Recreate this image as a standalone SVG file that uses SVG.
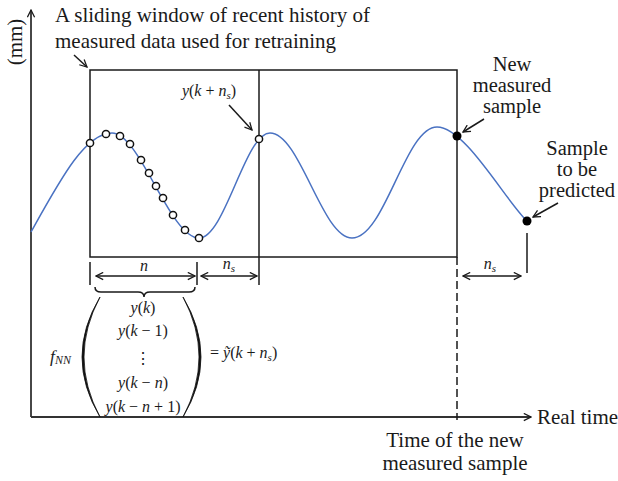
<svg xmlns="http://www.w3.org/2000/svg" width="618" height="481" viewBox="0 0 618 481">
<style>
text{font-family:"Liberation Serif","Times New Roman",serif;fill:#1a1a1a}
.lbl{font-size:21px}
.sm{font-size:20.5px}
.mt{font-size:16px}
.i{font-style:italic}
.ln{stroke:#1a1a1a;stroke-width:1.5;fill:none}
.ax{stroke:#333;stroke-width:1.8;fill:none}
.curve{stroke:#4a72c2;stroke-width:1.5;fill:none}
.ho{fill:#fff;stroke:#111;stroke-width:1.5}
.fi{fill:#000}
</style>
<defs>
<marker id="ah" viewBox="0 0 10 10" refX="9" refY="5" markerWidth="9" markerHeight="9" markerUnits="userSpaceOnUse" orient="auto-start-reverse">
<path d="M1,1 L9,5 L1,9" fill="none" stroke="#1a1a1a" stroke-width="1.4"/>
</marker>
</defs>

<g id="axes">
<line class="ax" x1="31" y1="417" x2="31" y2="10" marker-end="url(#ah)"/>
<line class="ax" x1="31" y1="417" x2="531" y2="417" marker-end="url(#ah)"/>
<text class="lbl" transform="translate(22,42) rotate(-90)" text-anchor="middle">(mm)</text>
<text class="lbl" x="537" y="424">Real time</text>
</g>

<g id="window">
<rect class="ln" x="90" y="70" width="367" height="187"/>
<line class="ln" x1="259" y1="70" x2="259" y2="285"/>
<line class="ln" x1="90" y1="262" x2="90" y2="285"/>
<line class="ln" x1="197" y1="262" x2="197" y2="285"/>
<line class="ln" x1="457" y1="257" x2="457" y2="420" stroke-dasharray="8,4"/>
<line class="ln" x1="527" y1="233" x2="527" y2="273"/>
</g>

<g id="curve">
<path class="curve" d="M31,232 C60,180 85,133 112,133 C140,133 170,238 199,238 C225,238 245,133 270,133 C300,133 322,238 352,238 C385,238 405,127 437,127 C465,127 505,200 527,221"/>
</g>

<g id="samples">
<circle class="ho" cx="90" cy="143" r="3.6"/>
<circle class="ho" cx="106" cy="134" r="3.6"/>
<circle class="ho" cx="120" cy="136" r="3.6"/>
<circle class="ho" cx="130" cy="144" r="3.6"/>
<circle class="ho" cx="141" cy="160" r="3.6"/>
<circle class="ho" cx="149" cy="173" r="3.6"/>
<circle class="ho" cx="156" cy="186" r="3.6"/>
<circle class="ho" cx="163" cy="198" r="3.6"/>
<circle class="ho" cx="173" cy="215" r="3.6"/>
<circle class="ho" cx="185" cy="230" r="3.6"/>
<circle class="ho" cx="199" cy="238" r="3.6"/>
<circle class="ho" cx="259" cy="139" r="3.6"/>
<circle class="fi" cx="457" cy="136" r="4.5"/>
<circle class="fi" cx="527" cy="221" r="4.5"/>
</g>

<g id="connectors">
<line class="ln" x1="74" y1="55" x2="87" y2="67" marker-end="url(#ah)"/>
<line class="ln" x1="229" y1="105" x2="252" y2="130" marker-end="url(#ah)"/>
<line class="ln" x1="484" y1="119" x2="463" y2="132" marker-end="url(#ah)"/>
<line class="ln" x1="558" y1="203" x2="533" y2="217" marker-end="url(#ah)"/>
<line class="ln" x1="96" y1="276" x2="195" y2="276" marker-start="url(#ah)" marker-end="url(#ah)"/>
<line class="ln" x1="201" y1="276" x2="257" y2="276" marker-start="url(#ah)" marker-end="url(#ah)"/>
<line class="ln" x1="463" y1="276" x2="521" y2="276" marker-start="url(#ah)" marker-end="url(#ah)"/>
</g>

<g id="label-window">
<text class="lbl" x="55" y="22">A sliding window of recent history of</text>
<text class="lbl" x="55" y="48">measured data used for retraining</text>
</g>

<g id="label-ykns">
<text class="mt" x="209" y="96" text-anchor="middle"><tspan class="i">y</tspan>(<tspan class="i">k</tspan> + <tspan class="i">n</tspan><tspan class="i" font-size="11" dy="3">s</tspan><tspan dy="-3">)</tspan></text>
</g>

<g id="label-new">
<text class="sm" x="512" y="71" text-anchor="middle">New</text>
<text class="sm" x="512" y="92" text-anchor="middle">measured</text>
<text class="sm" x="512" y="113" text-anchor="middle">sample</text>
</g>

<g id="label-predicted">
<text class="sm" x="577" y="155" text-anchor="middle">Sample</text>
<text class="sm" x="577" y="176" text-anchor="middle">to be</text>
<text class="sm" x="577" y="197" text-anchor="middle">predicted</text>
</g>

<g id="label-time">
<text class="lbl" x="455" y="447" text-anchor="middle">Time of the new</text>
<text class="lbl" x="455" y="470" text-anchor="middle">measured sample</text>
</g>

<g id="dims">
<text class="mt i" x="144" y="271" text-anchor="middle">n</text>
<text class="mt" x="229" y="269" text-anchor="middle"><tspan class="i">n</tspan><tspan class="i" font-size="11" dy="3">s</tspan></text>
<text class="mt" x="490" y="269" text-anchor="middle"><tspan class="i">n</tspan><tspan class="i" font-size="11" dy="3">s</tspan></text>
</g>

<g id="formula">
<path class="ln" stroke-width="1.3" d="M95,287 Q95,292 101,292 L138,292 Q144,292 144,297 Q144,292 150,292 L189,292 Q195,292 195,287"/>
<path d="M100,297 Q64,357 100,417 Q68,357 100,297 Z" fill="#111" stroke="#111" stroke-width="0.8"/>
<path d="M183,297 Q219,357 183,417 Q215,357 183,297 Z" fill="#111" stroke="#111" stroke-width="0.8"/>
<text class="mt" x="143" y="313" text-anchor="middle"><tspan class="i">y</tspan>(<tspan class="i">k</tspan>)</text>
<text class="mt" x="143" y="336" text-anchor="middle"><tspan class="i">y</tspan>(<tspan class="i">k</tspan> − 1)</text>
<text class="mt" x="143" y="364" text-anchor="middle" style="font-family:'DejaVu Serif',serif">⋮</text>
<text class="mt" x="143" y="388" text-anchor="middle"><tspan class="i">y</tspan>(<tspan class="i">k</tspan> − <tspan class="i">n</tspan>)</text>
<text class="mt" x="143" y="412" text-anchor="middle"><tspan class="i">y</tspan>(<tspan class="i">k</tspan> − <tspan class="i">n</tspan> + 1)</text>
<text class="mt" x="50" y="362"><tspan class="i" font-size="17.5">f</tspan><tspan class="i" font-size="12" dy="2">NN</tspan></text>
<text class="mt" x="210" y="358">= <tspan class="i">ỹ</tspan>(<tspan class="i">k</tspan> + <tspan class="i">n</tspan><tspan class="i" font-size="11" dy="3">s</tspan><tspan dy="-3">)</tspan></text>
</g>
</svg>
